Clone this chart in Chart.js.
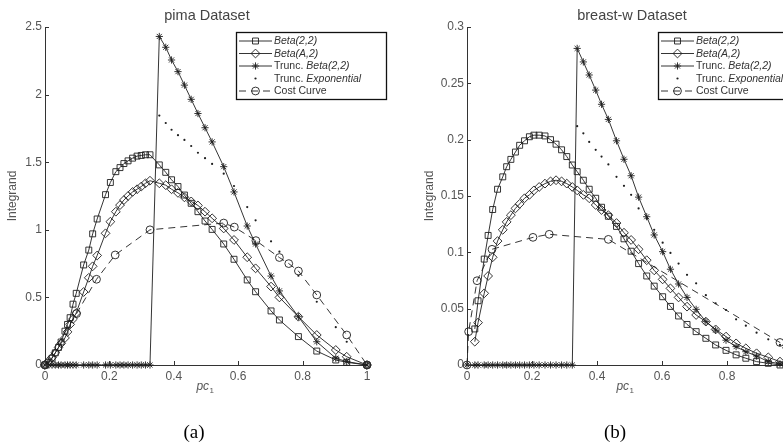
<!DOCTYPE html>
<html>
<head>
<meta charset="utf-8">
<script src="https://cdn.jsdelivr.net/npm/chart.js@4.4.1/dist/chart.umd.min.js"></script>
<style>
  html, body { margin: 0; padding: 0; background: #fff; overflow: hidden; }
  body { width: 783px; height: 445px; position: relative; }
  canvas { position: absolute; top: 0; }
  #pimaChart { left: 0; width: 390px; height: 445px; }
  #breastChart { left: 390px; width: 430px; height: 445px; }
</style>
</head>
<body>
<canvas id="pimaChart" width="390" height="445"></canvas>
<canvas id="breastChart" width="430" height="445"></canvas>
<script>
// pima panel (a)
const pimaX = [0, 0.012, 0.022, 0.032, 0.042, 0.05, 0.062, 0.07, 0.078, 0.087, 0.097, 0.12, 0.136, 0.148, 0.162, 0.188, 0.203, 0.22, 0.233, 0.245, 0.258, 0.272, 0.286, 0.299, 0.312, 0.326, 0.355, 0.375, 0.393, 0.413, 0.433, 0.454, 0.475, 0.497, 0.519, 0.555, 0.587, 0.628, 0.654, 0.702, 0.728, 0.787, 0.844, 0.903, 0.937, 1.0];
const pimaBeta22 = [0, 0.02, 0.05, 0.09, 0.13, 0.17, 0.25, 0.3, 0.35, 0.45, 0.53, 0.74, 0.85, 0.97, 1.08, 1.26, 1.35, 1.43, 1.46, 1.49, 1.51, 1.53, 1.545, 1.55, 1.555, 1.555, 1.48, 1.425, 1.37, 1.32, 1.257, 1.196, 1.134, 1.065, 1.003, 0.895, 0.782, 0.629, 0.542, 0.4, 0.333, 0.21, 0.103, 0.037, 0.02, 0];
const pimaBetaA2 = [0, 0.03, 0.055, 0.09, 0.13, 0.16, 0.2, 0.245, 0.3, 0.34, 0.385, 0.54, 0.645, 0.73, 0.81, 0.974, 1.06, 1.134, 1.183, 1.22, 1.25, 1.28, 1.3, 1.32, 1.344, 1.363, 1.344, 1.33, 1.3, 1.273, 1.24, 1.21, 1.18, 1.134, 1.085, 1.01, 0.925, 0.797, 0.715, 0.58, 0.5, 0.357, 0.222, 0.111, 0.061, 0];
const pimaTruncBeta = [0, 0, 0, 0, 0, 0, 0, 0, 0, 0, 0, 0, 0, 0, 0, 0, 0, 0, 0, 0, 0, 0, 0, 0, 0, 0, 2.43, 2.35, 2.256, 2.17, 2.07, 1.965, 1.86, 1.755, 1.65, 1.467, 1.28, 1.028, 0.895, 0.658, 0.548, 0.357, 0.172, 0.05, 0.025, 0];
const pimaTruncExp = [0, 0, 0, 0, 0, 0, 0, 0, 0, 0, 0, 0, 0, 0, 0, 0, 0, 0, 0, 0, 0, 0, 0, 0, 0, 0, 1.845, 1.79, 1.74, 1.7, 1.665, 1.62, 1.57, 1.53, 1.487, 1.415, 1.324, 1.168, 1.07, 0.915, 0.838, 0.66, 0.468, 0.28, 0.172, 0];
const pimaCostX = [0, 0.098, 0.16, 0.218, 0.326, 0.555, 0.588, 0.655, 0.728, 0.757, 0.787, 0.844, 0.937, 1.0];
const pimaCost = [0, 0.38, 0.634, 0.814, 1.0, 1.05, 1.02, 0.92, 0.795, 0.75, 0.695, 0.518, 0.222, 0];
const pimaXTicks = [0, 0.2, 0.4, 0.6, 0.8, 1];
const pimaYTicks = [0, 0.5, 1, 1.5, 2, 2.5];

// breast-w panel (b)
const breastX = [0, 0.024, 0.034, 0.053, 0.065, 0.079, 0.094, 0.11, 0.122, 0.135, 0.149, 0.162, 0.177, 0.192, 0.206, 0.222, 0.24, 0.257, 0.274, 0.291, 0.307, 0.324, 0.339, 0.358, 0.376, 0.396, 0.414, 0.435, 0.46, 0.483, 0.505, 0.528, 0.553, 0.576, 0.602, 0.626, 0.651, 0.677, 0.705, 0.735, 0.765, 0.797, 0.828, 0.858, 0.891, 0.927, 0.963, 1.0];
const breastBeta22 = [null, 0.032, 0.057, 0.094, 0.115, 0.138, 0.156, 0.167, 0.176, 0.1825, 0.189, 0.195, 0.199, 0.2026, 0.204, 0.204, 0.2033, 0.2, 0.196, 0.191, 0.185, 0.1775, 0.1716, 0.164, 0.156, 0.148, 0.14, 0.132, 0.123, 0.112, 0.101, 0.09, 0.079, 0.07, 0.0606, 0.052, 0.0435, 0.036, 0.0296, 0.0237, 0.0178, 0.013, 0.009, 0.006, 0.003, 0.0015, 0, 0];
const breastBetaA2 = [null, 0.0207, 0.0376, 0.0636, 0.079, 0.0956, 0.11, 0.12, 0.127, 0.133, 0.139, 0.143, 0.148, 0.151, 0.155, 0.158, 0.161, 0.163, 0.164, 0.163, 0.161, 0.158, 0.155, 0.151, 0.148, 0.142, 0.1376, 0.133, 0.126, 0.1174, 0.111, 0.1027, 0.093, 0.084, 0.076, 0.068, 0.06, 0.0518, 0.0444, 0.0385, 0.0316, 0.0252, 0.0192, 0.0148, 0.0104, 0.0068, 0.003, 0];
const breastTruncBeta = [0, 0, 0, 0, 0, 0, 0, 0, 0, 0, 0, 0, 0, 0, 0, 0, 0, 0, 0, 0, 0, 0, 0.281, 0.269, 0.2574, 0.244, 0.2314, 0.218, 0.199, 0.1826, 0.168, 0.149, 0.1316, 0.1154, 0.1006, 0.085, 0.0719, 0.06, 0.0494, 0.0385, 0.031, 0.022, 0.0163, 0.0118, 0.008, 0.003, 0.001, 0];
const breastTruncExp = [0, 0, 0, 0, 0, 0, 0, 0, 0, 0, 0, 0, 0, 0, 0, 0, 0, 0, 0, 0, 0, 0, 0.212, 0.2056, 0.198, 0.191, 0.185, 0.178, 0.167, 0.159, 0.151, 0.139, 0.13, 0.12, 0.1086, 0.0995, 0.09, 0.08, 0.0725, 0.062, 0.0548, 0.0488, 0.0405, 0.0349, 0.0287, 0.0228, 0.0178, 0.013];
const breastCostX = [0, 0.005, 0.031, 0.077, 0.203, 0.253, 0.435, 0.963, 1.0];
const breastCost = [0, 0.0296, 0.0748, 0.1027, 0.1133, 0.116, 0.1115, 0.02, 0];
const breastXTicks = [0, 0.2, 0.4, 0.6, 0.8, 1];
const breastYTicks = [0, 0.05, 0.1, 0.15, 0.2, 0.25, 0.3];

// legend text: [text, italic]
const legendLabels = [
  [["Beta(2,2)", true]],
  [["Beta(A,2)", true]],
  [["Trunc. ", false], ["Beta(2,2)", true]],
  [["Trunc. ", false], ["Exponential", true]],
  [["Cost Curve", false]],
];

const ink = "#1e1e1e";
const sans = "'Liberation Sans', Arial, Helvetica, sans-serif";
const serif = "'Liberation Serif', 'Times New Roman', serif";

function points(xs, ys) {
  return xs.map((x, i) => ({ x, y: ys[i] }));
}

function makeDatasets(p) {
  const base = {
    borderColor: ink,
    borderWidth: 0.9,
    pointBorderColor: ink,
    pointBackgroundColor: "rgba(0,0,0,0)",
    pointBorderWidth: 0.9,
    tension: 0,
    clip: false,
  };
  return [
    { ...base, data: points(p.x, p.beta22), pointStyle: "rect", pointRadius: 4.2 },
    { ...base, data: points(p.x, p.betaA2), pointStyle: "rectRot", pointRadius: 4.4 },
    { ...base, data: points(p.x, p.truncBeta), pointStyle: "star", pointRadius: 3.6 },
    { ...base, data: points(p.x, p.truncExp), showLine: false, pointStyle: "circle", pointRadius: 1.1, pointBorderWidth: 0, pointBackgroundColor: ink },
    { ...base, data: points(p.costX, p.cost), borderDash: [7, 5], pointStyle: "circle", pointRadius: 3.9 },
  ];
}

function drawMarker(ctx, ds, x, y) {
  const opts = { pointStyle: ds.pointStyle, radius: ds.pointRadius, borderWidth: ds.pointBorderWidth, rotation: 0 };
  ctx.save();
  ctx.strokeStyle = ink;
  ctx.fillStyle = ds.pointBackgroundColor;
  ctx.lineWidth = ds.pointBorderWidth || 0.9;
  Chart.helpers.drawPoint(ctx, opts, x, y);
  ctx.restore();
}

const decorPlugin = {
  id: "panelDecor",
  afterDraw(chart, args, opts) {
    const ctx = chart.ctx;
    const area = chart.chartArea;
    const xs = chart.scales.x;
    const ys = chart.scales.y;
    ctx.save();

    // inward tick marks
    ctx.strokeStyle = "#333";
    ctx.lineWidth = 1;
    ctx.beginPath();
    xs.ticks.forEach((t) => {
      const px = Math.round(xs.getPixelForValue(t.value)) + 0.5;
      ctx.moveTo(px, area.bottom);
      ctx.lineTo(px, area.bottom - 4);
    });
    ys.ticks.forEach((t) => {
      const py = Math.round(ys.getPixelForValue(t.value)) + 0.5;
      ctx.moveTo(area.left, py);
      ctx.lineTo(area.left + 4, py);
    });
    ctx.stroke();

    // title
    ctx.fillStyle = "#444";
    ctx.textAlign = "center";
    ctx.textBaseline = "alphabetic";
    ctx.font = `14.5px ${sans}`;
    ctx.fillText(opts.title, opts.titleX, 20);

    // y label
    ctx.save();
    ctx.translate(opts.yLabelX, (area.top + area.bottom) / 2);
    ctx.rotate(-Math.PI / 2);
    ctx.font = `12px ${sans}`;
    ctx.fillStyle = "#555";
    ctx.textBaseline = "middle";
    ctx.fillText("Integrand", 0, 0);
    ctx.restore();

    // x label pc1
    ctx.fillStyle = "#555";
    ctx.textAlign = "left";
    ctx.font = `italic 12px ${sans}`;
    const pcW = ctx.measureText("pc").width;
    ctx.font = `8px ${sans}`;
    const subW = ctx.measureText("1").width;
    const startX = opts.xLabelX - (pcW + subW) / 2;
    ctx.font = `italic 12px ${sans}`;
    ctx.fillText("pc", startX, 390);
    ctx.font = `8px ${sans}`;
    ctx.fillText("1", startX + pcW + 0.5, 393);

    // caption
    ctx.fillStyle = "#000";
    ctx.textAlign = "center";
    ctx.textBaseline = "middle";
    ctx.font = `19px ${serif}`;
    ctx.fillText(opts.caption, opts.captionX, 433);

    // legend box
    const lx = opts.legendX;
    const top = 32;
    ctx.fillStyle = "#fff";
    ctx.fillRect(lx, top, 150, 67);
    ctx.strokeStyle = "#111";
    ctx.lineWidth = 1.3;
    ctx.strokeRect(lx + 0.5, top + 0.5, 150, 67);

    const rowY = [41, 53.5, 66, 78.5, 91];
    chart.data.datasets.forEach((ds, i) => {
      const y = rowY[i];
      if (ds.showLine !== false) {
        ctx.save();
        ctx.strokeStyle = ink;
        ctx.lineWidth = 0.9;
        ctx.setLineDash(ds.borderDash || []);
        ctx.beginPath();
        ctx.moveTo(lx + 3, y);
        ctx.lineTo(lx + 36, y);
        ctx.stroke();
        ctx.restore();
      }
      drawMarker(ctx, ds, lx + 19.5, y);

      let tx = lx + 38;
      ctx.fillStyle = "#333";
      ctx.textAlign = "left";
      ctx.textBaseline = "middle";
      legendLabels[i].forEach(([text, italic]) => {
        ctx.font = `${italic ? "italic " : ""}10.5px ${sans}`;
        ctx.fillText(text, tx, y + 0.5);
        tx += ctx.measureText(text).width;
      });
    });

    ctx.restore();
  },
};

function buildChart(canvasId, p) {
  const tickFont = { family: sans, size: 12 };
  return new Chart(document.getElementById(canvasId), {
    type: "line",
    data: { datasets: makeDatasets(p) },
    options: {
      responsive: false,
      animation: false,
      events: [],
      layout: { padding: { left: 0, right: p.padRight, top: 27, bottom: 0 } },
      plugins: {
        legend: { display: false },
        tooltip: { enabled: false },
        panelDecor: p.decor,
      },
      scales: {
        x: {
          type: "linear",
          min: 0,
          max: 1,
          afterFit: (s) => { s.height = 80; },
          afterBuildTicks: (s) => { s.ticks = p.xTicks.map((v) => ({ value: v })); },
          ticks: { font: tickFont, color: "#555", padding: 4, autoSkip: false, maxRotation: 0, callback: (v) => String(v) },
          grid: { drawOnChartArea: false, drawTicks: false },
          border: { display: true, color: "#333", width: 1 },
        },
        y: {
          type: "linear",
          min: 0,
          max: p.yMax,
          afterFit: (s) => { s.width = p.axisLeft; },
          afterBuildTicks: (s) => { s.ticks = p.yTicks.map((v) => ({ value: v })); },
          ticks: { font: tickFont, color: "#555", padding: 3, autoSkip: false, callback: (v) => String(v) },
          grid: { drawOnChartArea: false, drawTicks: false },
          border: { display: true, color: "#333", width: 1 },
        },
      },
    },
    plugins: [decorPlugin],
  });
}

buildChart("pimaChart", {
  x: pimaX, beta22: pimaBeta22, betaA2: pimaBetaA2, truncBeta: pimaTruncBeta, truncExp: pimaTruncExp,
  costX: pimaCostX, cost: pimaCost, xTicks: pimaXTicks, yTicks: pimaYTicks,
  yMax: 2.5, axisLeft: 45, padRight: 23,
  decor: { title: "pima Dataset", titleX: 207, yLabelX: 13, xLabelX: 205, caption: "(a)", captionX: 194, legendX: 236 },
});

buildChart("breastChart", {
  x: breastX, beta22: breastBeta22, betaA2: breastBetaA2, truncBeta: breastTruncBeta, truncExp: breastTruncExp,
  costX: breastCostX, cost: breastCost, xTicks: breastXTicks, yTicks: breastYTicks,
  yMax: 0.3, axisLeft: 77, padRight: 28,
  decor: { title: "breast-w Dataset", titleX: 242, yLabelX: 40, xLabelX: 235, caption: "(b)", captionX: 225, legendX: 268 },
});
</script>
</body>
</html>
